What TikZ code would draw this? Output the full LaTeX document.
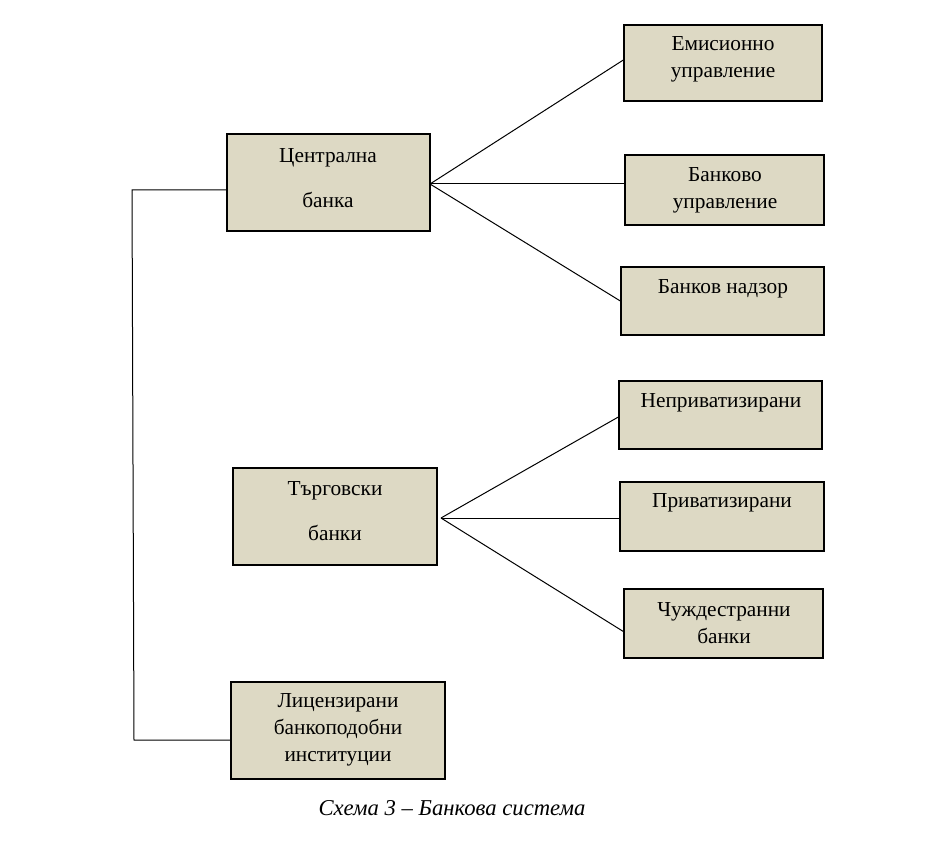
\documentclass[tikz,border=0pt]{standalone}
\usepackage{fontspec}
\setmainfont{Liberation Serif}
\usetikzlibrary{fit,calc}
\definecolor{boxfill}{RGB}{221,217,196}
\begin{document}
\begin{tikzpicture}[x=0.75pt,y=-0.75pt,
  box/.style={draw=black, fill=boxfill, line width=1pt, inner sep=0pt},
  txt/.style={font=\fontsize{16}{20.25}\selectfont, align=center, inner sep=0pt},
  conn/.style={draw=black, line width=0.75pt}]
\useasboundingbox (0,0) rectangle (941,841);
% boxes
\node[box, fit={(227,134) (430,231)}] (cb) {};
\node[box, fit={(624,25) (822,101)}] (em) {};
\node[box, fit={(625,155) (824,225)}] (bu) {};
\node[box, fit={(621,267) (824,335)}] (bn) {};
\node[box, fit={(233,468) (437,565)}] (tb) {};
\node[box, fit={(619,381) (822,449)}] (np) {};
\node[box, fit={(620,482) (824,551)}] (pr) {};
\node[box, fit={(624,589) (823,658)}] (ch) {};
\node[box, fit={(231,682) (445,779)}] (li) {};
% texts
\node[txt] (tcb) at (328,178) {Централна\\[13.5pt]банка};
\node[txt] (tem) at (723,59) {Емисионно\\управление};
\node[txt] (tbu) at (725,190.5) {Банково\\управление};
\node[txt] (tbn) at (723,289) {Банков надзор};
\node[txt] (ttb) at (335,511.5) {Търговски\\[13.5pt]банки};
\node[txt] (tnp) at (721,403) {Неприватизирани};
\node[txt] (tpr) at (722,503) {Приватизирани};
\node[txt] (tch) at (724,623.5) {Чуждестранни\\банки};
\node[txt] (tli) at (338,729.5) {Лицензирани\\банкоподобни\\институции};
\node[txt, font=\fontsize{17}{20}\selectfont\itshape] (cap) at (452,808) {Схема 3 – Банкова система};
% connectors
\coordinate (cbo) at (430,184);
\draw[conn] (cbo) -- ($(em.west)+(0,-3)$);
\draw[conn] (cbo) -- (cbo -| bu.west);
\draw[conn] (cbo) -- (bn.west);
\coordinate (tbo) at (441,518);
\draw[conn] (tbo) -- ($(np.west)+(0,2)$);
\draw[conn] (tbo) -- (tbo -| pr.west);
\draw[conn] (tbo) -- ($(ch.west)+(0,8)$);
\coordinate (lt) at (132,190);
\coordinate (lb) at (134,740);
\draw[conn] (cb.west |- lt) -- (lt) -- (lb) -- (lb -| li.west);
\end{tikzpicture}
\end{document}
